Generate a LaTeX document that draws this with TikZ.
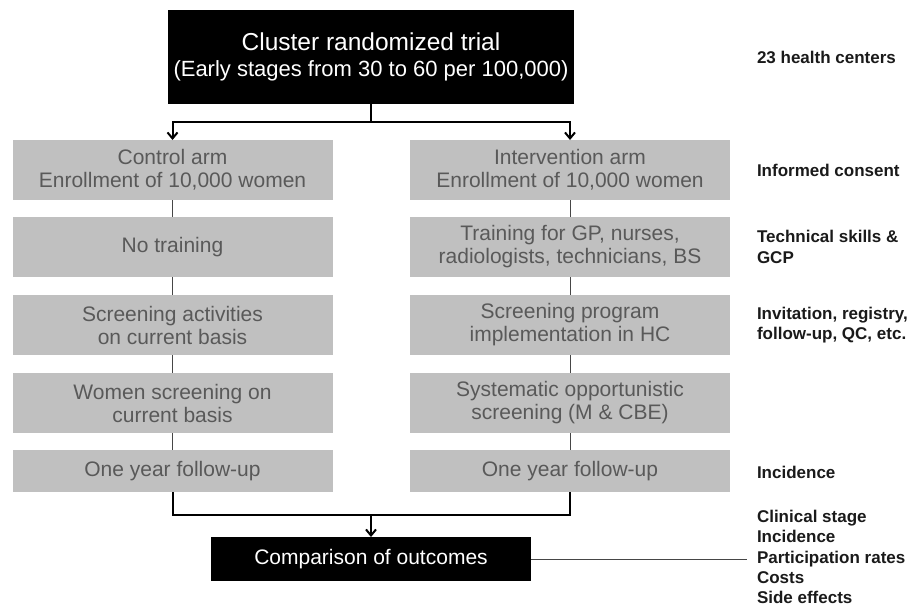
\documentclass[tikz,border=0pt]{standalone}
\usepackage{fontspec}
\setmainfont{Liberation Sans}
\usetikzlibrary{arrows.meta}

\definecolor{armgray}{RGB}{192,192,192}
\definecolor{armtext}{RGB}{89,89,89}
\definecolor{notetext}{RGB}{26,26,26}
\definecolor{linkgray}{RGB}{70,70,70}

\begin{document}
\begin{tikzpicture}[x=1pt,y=-1pt]
\tikzstyle{every node}=[inner sep=0pt, outer sep=0pt]
\tikzstyle{darkbox}=[
  rectangle,
  fill=black,
  text=white,
  align=center ]
\tikzstyle{armbox}=[
  rectangle,
  fill=armgray,
  text=armtext,
  minimum width=320pt,
  minimum height=60pt,
  align=center,
  font=\fontsize{21}{23}\selectfont ]
\tikzstyle{note}=[
  anchor=west,
  align=left,
  text=notetext,
  font=\bfseries\fontsize{17}{20.2}\selectfont ]
\tikzstyle{main}=[line width=2pt, black]
\tikzstyle{tip}=[-{Straight Barb[length=6pt,width=10pt]}]
\tikzstyle{link}=[line width=1pt, linkgray]
\useasboundingbox (0,0) rectangle (920,608);

\node[darkbox, minimum width=406pt, minimum height=94pt,
  font=\fontsize{22}{26}\selectfont] (trial) at (371,57)
  {{\fontsize{24.5}{26}\selectfont Cluster randomized trial}\\
   (Early stages from 30 to 60 per 100,000)};

% control arm
\node[armbox] (ctrl1) at (172.5,170) {Control arm\\Enrollment of 10,000 women};
\node[armbox] (ctrl2) at (172.5,247) {No training};
\node[armbox] (ctrl3) at (172.5,325) {Screening activities\\on current basis};
\node[armbox] (ctrl4) at (172.5,403) {Women screening on\\current basis};
\node[armbox, minimum height=42pt] (ctrl5) at (172.5,471) {One year follow-up};

% intervention arm
\node[armbox] (int1) at (570,170) {Intervention arm\\Enrollment of 10,000 women};
\node[armbox] (int2) at (570,247) {Training for GP, nurses,\\radiologists, technicians, BS};
\node[armbox] (int3) at (570,325) {Screening program\\implementation in HC};
\node[armbox] (int4) at (570,403) {Systematic opportunistic\\screening (M \& CBE)};
\node[armbox, minimum height=42pt] (int5) at (570,471) {One year follow-up};

\node[darkbox, minimum width=320pt, minimum height=44pt,
  font=\fontsize{21}{23}\selectfont] (outcome) at (371,559) {Comparison of outcomes};

% notes on the right
\node[note] (centers) at (757,57) {23 health centers};
\node[note] (consent) at (757,170) {Informed consent};
\node[note] (skills) at (757,247) {Technical skills \&\\GCP};
\node[note] (program) at (757,325) {Invitation, registry,\\follow-up, QC, etc.};
\node[note] (incid) at (757,472) {Incidence};
\node[note] (results) at (757,557) {Clinical stage\\Incidence\\Participation rates\\Costs\\Side effects};

% split and merge
\coordinate (split) at (371,122);
\coordinate (merge) at (371,515);
\coordinate (listend) at (747,559);
\draw[main] (trial.south) -- (split);
\draw[main, tip] (split) -| (ctrl1.north);
\draw[main, tip] (split) -| (int1.north);
\draw[main] (ctrl5.south) |- (merge) -| (int5.south);
\draw[main, tip] (merge) -- (outcome.north);

% steps
\draw[link] (ctrl1.south) -- (ctrl2.north);
\draw[link] (ctrl2.south) -- (ctrl3.north);
\draw[link] (ctrl3.south) -- (ctrl4.north);
\draw[link] (ctrl4.south) -- (ctrl5.north);
\draw[link] (int1.south) -- (int2.north);
\draw[link] (int2.south) -- (int3.north);
\draw[link] (int3.south) -- (int4.north);
\draw[link] (int4.south) -- (int5.north);
\draw[link] (outcome.east) -- (listend);
\end{tikzpicture}
\end{document}
